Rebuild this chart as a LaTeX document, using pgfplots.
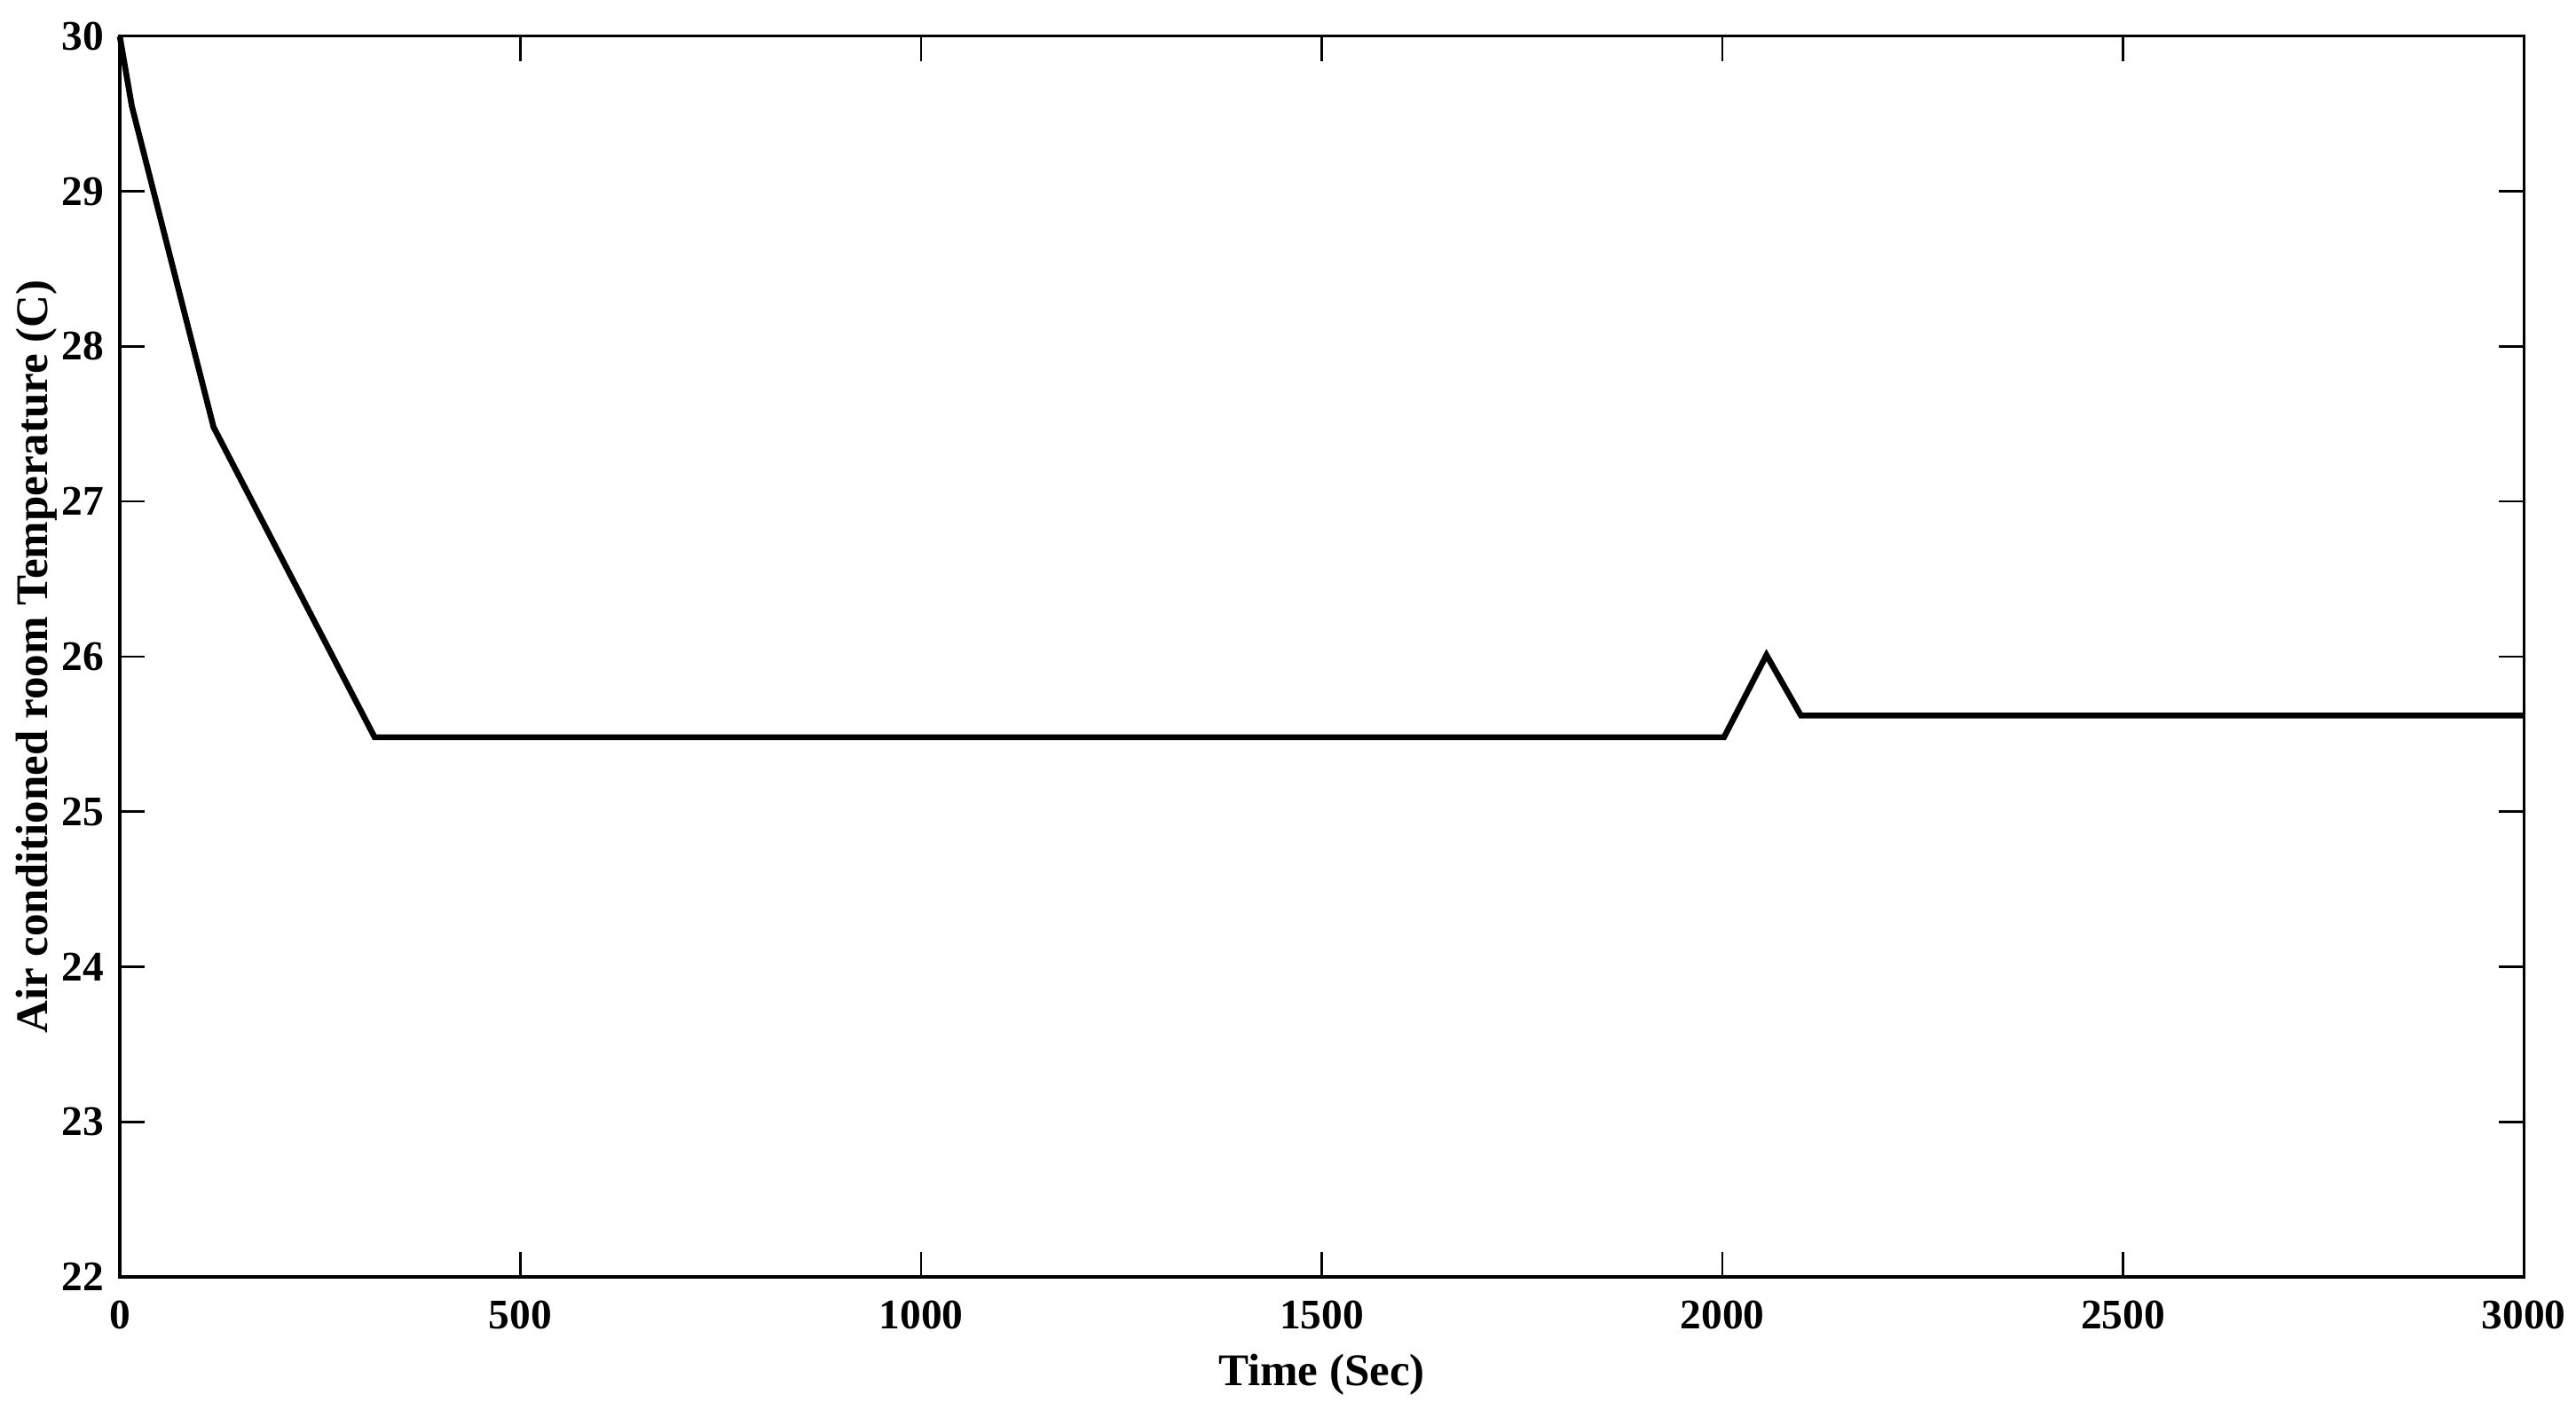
\documentclass[border=0pt]{standalone}
\usepackage{fontspec}
\setmainfont{Liberation Serif}
\usepackage{pgfplots}
\pgfplotsset{compat=1.18}
\begin{document}
\begin{tikzpicture}
\begin{axis}[
  name=ax,
  at={(0,0)}, anchor=south west,
  scale only axis,
  width=18.66cm, height=9.63cm,
  xmin=0, xmax=3000, ymin=22, ymax=30,
  xtick={0,500,...,3000},
  ytick={22,23,...,30},
  tick align=inside,
  major tick length=0.19cm,
  tick style={black, line width=0.5pt},
  axis line style={line width=0.6pt},
  /pgf/number format/assume math mode=true,
  /pgf/number format/set thousands separator={},
  ticklabel style={font=\fontsize{9.3}{10}\selectfont\bfseries},
  xticklabel style={yshift=-1.8pt},
  xlabel={Time (Sec)},
  ylabel={Air conditioned room Temperature (C)},
  label style={font=\fontsize{10}{11}\selectfont\bfseries},
  xlabel style={yshift=1.5pt},
  ylabel style={yshift=-5.8pt},
  clip=false,
]
\addplot[black, line width=1.3pt] coordinates {
  (0,30) (15,29.55) (117,27.48) (318,25.48) (2002,25.48) (2055,26.01) (2098,25.62) (3000,25.62)
};
\end{axis}
\pgfresetboundingbox
\path ([shift={(-0.93cm,-1.027cm)}]ax.south west) rectangle ([shift={(0.406cm,0.282cm)}]ax.north east);
\end{tikzpicture}
\end{document}
